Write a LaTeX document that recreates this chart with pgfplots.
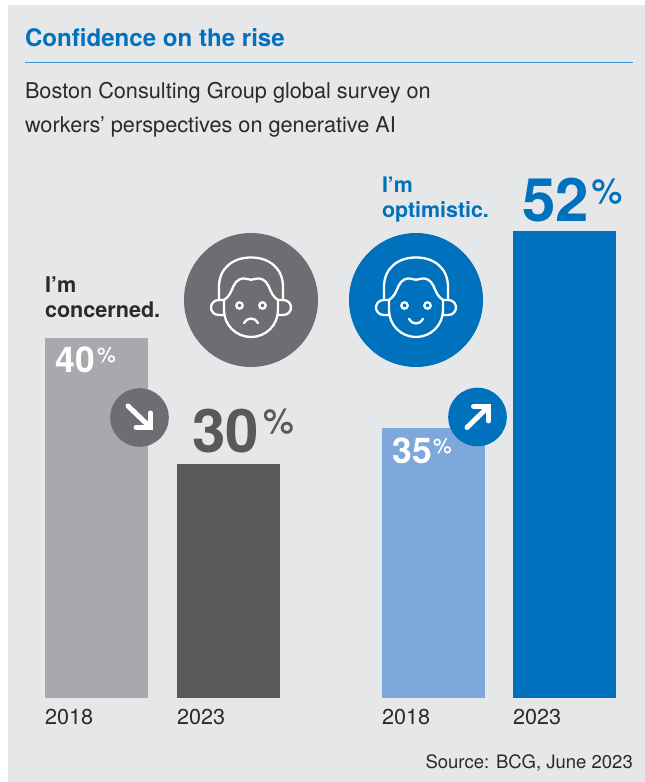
\documentclass[border=0pt]{standalone}
\usepackage{fontspec}
\setmainfont{TeX Gyre Heros}
\usepackage{pgfplots}
\pgfplotsset{compat=1.18}
\definecolor{panel}{HTML}{E6E7E9}
\definecolor{bcgblue}{HTML}{0071BC}
\definecolor{ruleblue}{HTML}{3D8FC9}
\definecolor{ink}{HTML}{2B2A2B}
\definecolor{darkgrey}{HTML}{58595B}
\definecolor{midgrey}{HTML}{6D6E71}
\definecolor{lightgrey}{HTML}{A7A9AC}
\definecolor{lightblue}{HTML}{7FA8DA}
\newcommand{\fs}[1]{\fontsize{#1}{#1}\selectfont}
\newcommand{\pct}{\addfontfeature{FakeBold=0.7}\%}
\newcommand{\txt}[4][ink]{\node[anchor=base west,inner sep=0pt,outer sep=0pt,text=#1] at (#2,#3) {#4};}
% head drawn around the circle centre, in pixels, y pointing down
\newcommand{\headshape}[2]{%
  \begin{scope}[shift={(#1,#2)},draw=white,line width=2.3pt,line cap=round,line join=round]
    % hair outline
    \draw (-32,0) -- (-32,-13) .. controls (-32,-32) and (-18,-42.5) .. (0,-42.5)
          .. controls (18,-42.5) and (32,-32) .. (32,-13) -- (32,0);
    % hairline and face
    \draw (-27,0) .. controls (-22,-3) and (-20,-8) .. (-17.5,-14)
          .. controls (-15,-20) and (-9,-23) .. (-4,-21)
          .. controls (-1.5,-20) and (1.5,-20) .. (4,-21)
          .. controls (9,-23) and (15,-20) .. (17.5,-14)
          .. controls (20,-8) and (22,-3) .. (27,0);
    \draw (-27,0) -- (-27,10) .. controls (-27,25) and (-15,37) .. (0,37)
          .. controls (15,37) and (27,25) .. (27,10) -- (27,0);
    % ears
    \draw (-27,0) -- (-32,0) .. controls (-37,0) and (-40,3.5) .. (-40,7.5)
          .. controls (-40,11.5) and (-37,15) .. (-32,15) -- (-27,15);
    \draw (27,0) -- (32,0) .. controls (37,0) and (40,3.5) .. (40,7.5)
          .. controls (40,11.5) and (37,15) .. (32,15) -- (27,15);
    % eyes
    \draw (-11.5,5.5) circle (3.2);
    \draw (11.5,5.5) circle (3.2);
  \end{scope}}
\begin{document}
\begin{tikzpicture}
  \path[fill=white] (0,0) rectangle (645pt,782pt);
  \fill[panel] (8pt,0pt) rectangle (645pt,777pt);
  \begin{axis}[
    at={(0pt,0pt)},anchor=south west,
    scale only axis,width=645pt,height=782pt,
    hide axis,clip=false,
    xmin=0,xmax=645,
    ymin=-9.3333,ymax=77.5556,
    ybar,
    every axis plot/.append style={bar shift=0pt,bar width=103pt,draw=none},
  ]
    % bar heights as drawn in the picture (baseline 698 px, 9 px per unit)
    \addplot[fill=lightgrey] coordinates {(96.5,40)};
    \addplot[fill=darkgrey]  coordinates {(228.5,26)};
    \addplot[fill=lightblue] coordinates {(433.5,30)};
    \addplot[fill=bcgblue]   coordinates {(564.5,51.9)};
  \end{axis}
  \begin{scope}[x=1pt,y=-1pt,shift={(0pt,782pt)}]
    % header
    \txt[bcgblue]{25}{46.5}{\fs{24.1}\bfseries Confidence on the rise}
    \draw[ruleblue,line width=1pt] (25,63) -- (633,63);
    \txt{25}{98.5}{\fs{21.7}Boston Consulting Group global survey on}
    \txt{25}{133}{\fs{21.7}workers’ perspectives on generative AI}
    % callouts
    \txt{45}{292.5}{\fs{21.6}\bfseries I’m}
    \txt{45}{317.5}{\fs{21.6}\bfseries concerned.}
    \txt[bcgblue]{382}{192.5}{\fs{21.4}\bfseries I’m}
    \txt[bcgblue]{382}{217.5}{\fs{21.4}\bfseries optimistic.}
    % big circles with heads
    \fill[midgrey] (251,300) circle (67);
    \fill[bcgblue] (416,300) circle (67);
    \headshape{251}{300}
    \draw[white,line width=2.3pt,line cap=round] (244,323) .. controls (247,317) and (255,317) .. (258,323);
    \headshape{416}{300}
    \draw[white,line width=2.3pt,line cap=round] (409,319) .. controls (412,325) and (420,325) .. (423,319);
    % arrows
    \fill[midgrey] (139.5,417.5) circle (29.3);
    \draw[white,line width=5pt,line cap=round,line join=miter] (128,406) -- (150,427);
    \draw[white,line width=5pt,line cap=round,line join=miter] (136,427.5) -- (150.5,427.5) -- (150.5,413);
    \fill[bcgblue] (477.5,417) circle (29.3);
    \draw[white,line width=5pt,line cap=round,line join=miter] (467,427.5) -- (488,407);
    \draw[white,line width=5pt,line cap=round,line join=miter] (473.5,406.5) -- (488.5,406.5) -- (488.5,421);
    % value labels
    \txt[white]{55.5}{373}{\fs{35.5}\bfseries 40}
    \txt[white]{97}{362}{\fs{21}\pct}
    \txt[darkgrey]{192.5}{452.5}{\fs{60}\bfseries 30}
    \txt[darkgrey]{263}{433}{\fs{34.5}\pct}
    \txt[white]{392.5}{463.5}{\fs{35.5}\bfseries 35}
    \txt[white]{433}{453}{\fs{21}\pct}
    \txt[bcgblue]{522.5}{221.5}{\fs{60}\bfseries 52}
    \txt[bcgblue]{591.5}{203}{\fs{34.5}\pct}
    % years
    \txt{45}{724.5}{\fs{21.6}2018}
    \txt{177}{724.5}{\fs{21.6}2023}
    \txt{382}{724.5}{\fs{21.6}2018}
    \txt{513}{724.5}{\fs{21.6}2023}
    % source
    \node[anchor=base east,inner sep=0pt,text=ink] at (633,769) {\fs{18.5}Source: BCG, June 2023};
  \end{scope}
\end{tikzpicture}
\end{document}
